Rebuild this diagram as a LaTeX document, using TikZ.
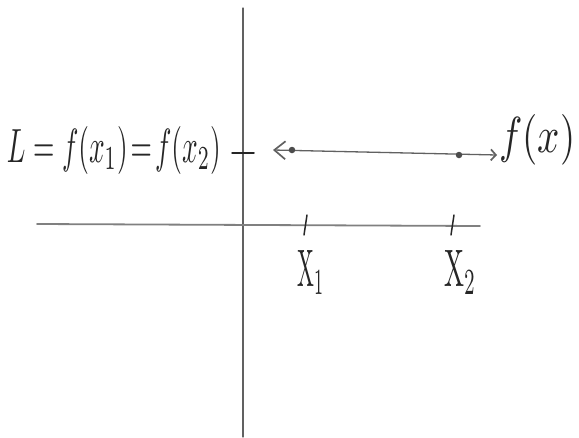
\documentclass[tikz,border=0pt]{standalone}
\usetikzlibrary{arrows.meta}
\begin{document}
\begin{tikzpicture}[x=1pt,y=-1pt,
  pencil/.style={draw=black!62,line width=1.3pt,line cap=round},
  tickmark/.style={draw=black!85,line width=1.5pt,line cap=round},
  lbl/.style={text=black!85,inner sep=0pt},
  dotmark/.style={circle,fill=black!70,inner sep=0pt,minimum size=6.5pt}]
\useasboundingbox[fill=white] (0,0) rectangle (579,437);
% axes
\coordinate (ytop) at (243,8);
\coordinate (ybot) at (243,437);
\coordinate (xl) at (37,224);
\coordinate (xr) at (480,226);
\draw[pencil,line width=1.1pt] (ytop) -- (ybot);
\draw[pencil,line width=1.8pt,draw=black!50] (xl) -- (xr);
% tick on y axis
\coordinate (lt1) at (232,153);
\coordinate (lt2) at (254,153);
\draw[tickmark] (lt1) -- (lt2);
% ticks on x axis
\coordinate (t1a) at (307,215);
\coordinate (t1b) at (304,235);
\coordinate (t2a) at (454,215);
\coordinate (t2b) at (451,235);
\draw[tickmark] (t1a) -- (t1b);
\draw[tickmark] (t2a) -- (t2b);
% f(x) line
\coordinate (fl) at (273,150);
\coordinate (fr) at (497,155);
\draw[pencil,{Straight Barb[length=11pt,width=18pt,line width=1.7pt]}-{Straight Barb[length=5pt,width=11pt,line width=1.7pt]}] (fl) -- (fr);
\node[dotmark] (d1) at (292,150) {};
\node[dotmark] (d2) at (459,155) {};
% labels
\node[lbl,anchor=east] (L) at (221,150) {\resizebox{214pt}{36pt}{$L = f(x_1)\!=\!f(x_2)$}};
\node[lbl,anchor=west] (fx) at (499,140) {\resizebox{76pt}{38pt}{$f(x)$}};
\node[lbl,anchor=north west] (x1) at (297,250) {\resizebox{27pt}{36pt}{$\mathrm{X}_{1}$}};
\node[lbl,anchor=north west] (x2) at (444,250) {\resizebox{32pt}{36pt}{$\mathrm{X}_{2}$}};
\end{tikzpicture}
\end{document}
